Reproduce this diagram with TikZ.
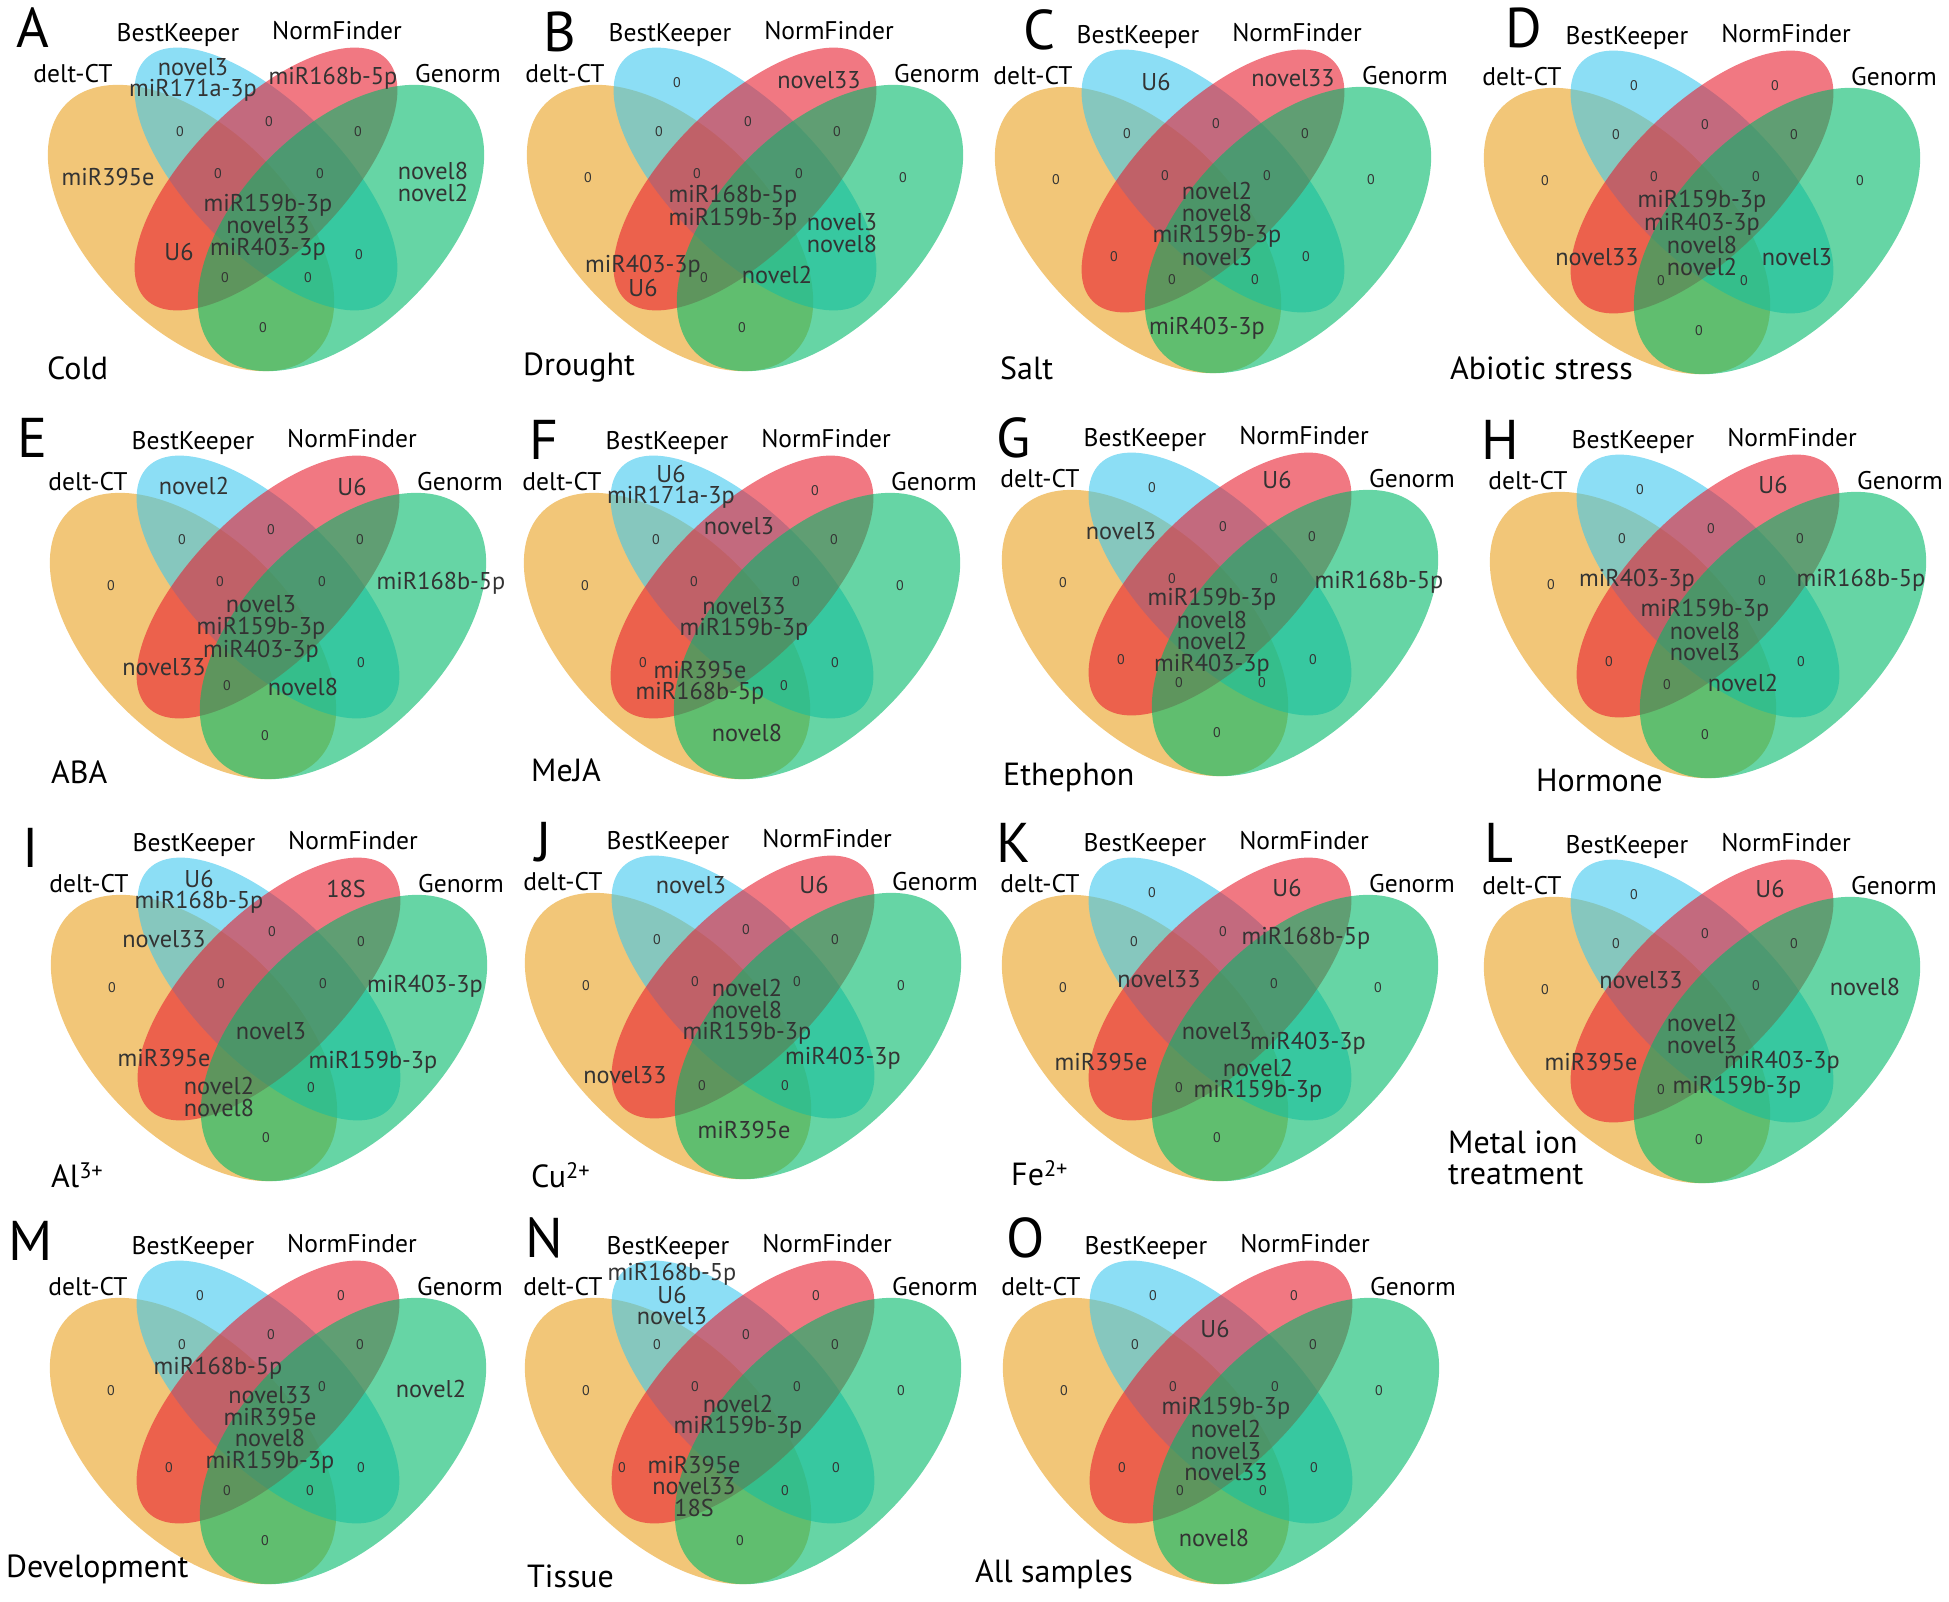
\documentclass[tikz,border=0pt]{standalone}
\usepackage{fontspec}
\setmainfont{PT Sans}
\definecolor{dctcol}{RGB}{233,160,30}
\definecolor{bkcol}{RGB}{63,200,238}
\definecolor{nfcol}{RGB}{232,30,47}
\definecolor{gncol}{RGB}{0,185,105}
\newcommand\labdx{0}
\tikzset{
  gene/.style={font=\fontsize{24.3}{21.5}\selectfont, align=center, inner sep=0pt, text=black!80},
  zero/.style={font=\fontsize{14}{14}\selectfont, inner sep=0pt, text=black!80},
  setlab/.style={font=\fontsize{25.5}{25}\selectfont, inner sep=0pt},
  tag/.style={font=\fontsize{56}{56}\selectfont, inner sep=0pt},
  ttl/.style={font=\fontsize{32}{31}\selectfont, inner sep=0pt, anchor=west, align=left},
  lobe/.style={fill opacity=0.6},
  venn/.pic={
    \fill[lobe,dctcol] (-75,143) circle[x radius=176, y radius=100, rotate=-45];
    \fill[lobe,bkcol] (0,94) circle[x radius=170, y radius=75, rotate=-45];
    \fill[lobe,nfcol] (0,94) circle[x radius=170, y radius=75, rotate=45];
    \fill[lobe,gncol] (75,143) circle[x radius=176, y radius=100, rotate=45];
    \node[setlab] (-dct) at (-180+\labdx,-11) {delt-CT};
    \node[setlab] (-bk) at (-75+\labdx,-50) {BestKeeper};
    \node[setlab] (-nf) at (84+\labdx,-54) {NormFinder};
    \node[setlab] (-gn) at (192,-11) {Genorm};
    \foreach \r/\x/\y in {o/-157/93, b/-68/-2, r/73/-2, g/158/93, ob/-86/47, br/3/37, rg/92/47,
        obr/-48/89, brg/54/89, or/-99/170, bg/93/170, org/-41/193, obg/42/193, og/-3/243}
      \coordinate (-\r) at (\x,\y);
  }
}
\begin{document}
\begin{tikzpicture}[x=1pt,y=-1pt]
\useasboundingbox (0,0) rectangle (1949,1601);

\begin{scope}[shift={(266,85)}]
\renewcommand\labdx{-13}
\pic (A) at (0,0) {venn};
\node[tag] (A-tag) at (-233,-57) {A};
\node[ttl] (A-ttl) at (-219,283) {Cold};
\foreach \r in {ob,br,rg,obr,brg,bg,org,obg,og} \node[zero] (A-z\r) at (A-\r) {0};
\node[gene] (A-go) at (-158,92) {miR395e};
\node[gene] (A-gb) at (-73,-5) {novel3\\miR171a-3p};
\node[gene] (A-gr) at (67,-7) {miR168b-5p};
\node[gene] (A-gg) at (167,97) {novel8\\novel2};
\node[gene] (A-gall) at (2,142) {miR159b-3p\\novel33\\miR403-3p};
\node[gene] (A-gor) at (-87,167) {U6};
\end{scope}

\begin{scope}[shift={(745,85)}]
\pic (B) at (0,0) {venn};
\node[tag] (B-tag) at (-185,-53) {B};
\node[ttl] (B-ttl) at (-222,283) {Drought};
\foreach \r in {o,b,g,ob,br,rg,obr,brg,org,og} \node[zero] (B-z\r) at (B-\r) {0};
\node[gene] (B-gr) at (74,-5) {novel33};
\node[gene] (B-gall) at (-12,123) {miR168b-5p\\miR159b-3p};
\node[gene] (B-gbg) at (97,148) {novel3\\novel8};
\node[gene] (B-gor) at (-102,191) {miR403-3p\\U6};
\node[gene] (B-gobg) at (32,190) {novel2};
\end{scope}

\begin{scope}[shift={(1213,87)}]
\pic (C) at (0,0) {venn};
\node[tag] (C-tag) at (-174,-57) {C};
\node[ttl] (C-ttl) at (-213,281) {Salt};
\foreach \r in {o,g,ob,br,rg,obr,brg,or,bg,org,obg} \node[zero] (C-z\r) at (C-\r) {0};
\node[gene] (C-gb) at (-57,-5) {U6};
\node[gene] (C-gr) at (80,-9) {novel33};
\node[gene] (C-gall) at (4,137) {novel2\\novel8\\miR159b-3p\\novel3};
\node[gene] (C-gog) at (-6,241) {miR403-3p};
\end{scope}

\begin{scope}[shift={(1702,88)}]
\pic (D) at (0,0) {venn};
\node[tag] (D-tag) at (-178,-60) {D};
\node[ttl] (D-ttl) at (-252,280) {Abiotic stress};
\foreach \r in {o,b,r,g,ob,br,rg,obr,brg,org,obg,og} \node[zero] (D-z\r) at (D-\r) {0};
\node[gene] (D-gall) at (0,145) {miR159b-3p\\miR403-3p\\novel8\\novel2};
\node[gene] (D-gor) at (-105,169) {novel33};
\node[gene] (D-gbg) at (95,169) {novel3};
\end{scope}

\begin{scope}[shift={(268,493)}]
\pic (E) at (0,0) {venn};
\node[tag] (E-tag) at (-235,-55) {E};
\node[ttl] (E-ttl) at (-217,279) {ABA};
\foreach \r in {o,ob,br,rg,obr,brg,bg,org,og} \node[zero] (E-z\r) at (E-\r) {0};
\node[gene] (E-gb) at (-74,-7) {novel2};
\node[gene] (E-gr) at (84,-6) {U6};
\node[gene] (E-gg) at (173,90) {miR168b-5p};
\node[gene] (E-gall) at (-7,136) {novel3\\miR159b-3p\\miR403-3p};
\node[gene] (E-gor) at (-104,174) {novel33};
\node[gene] (E-gobg) at (35,194) {novel8};
\end{scope}

\begin{scope}[shift={(742,493)}]
\pic (F) at (0,0) {venn};
\node[tag] (F-tag) at (-198,-53) {F};
\node[ttl] (F-ttl) at (-211,277) {MeJA};
\foreach \r in {o,r,g,ob,rg,obr,brg,or,bg,obg} \node[zero] (F-z\r) at (F-\r) {0};
\node[gene] (F-gb) at (-71,-6) {U6\\miR171a-3p};
\node[gene] (F-gbr) at (-3,33) {novel3};
\node[gene] (F-gall) at (2,126) {novel33\\miR159b-3p};
\node[gene] (F-gorg) at (-42,190) {miR395e\\miR168b-5p};
\node[gene] (F-gog) at (5,240) {novel8};
\end{scope}

\begin{scope}[shift={(1220,490)}]
\pic (G) at (0,0) {venn};
\node[tag] (G-tag) at (-206,-52) {G};
\node[ttl] (G-ttl) at (-217,287) {Ethephon};
\foreach \r in {o,b,br,rg,obr,brg,or,bg,org,obg,og} \node[zero] (G-z\r) at (G-\r) {0};
\node[gene] (G-gob) at (-99,41) {novel3};
\node[gene] (G-gr) at (57,-10) {U6};
\node[gene] (G-gg) at (159,92) {miR168b-5p};
\node[gene] (G-gall) at (-8,142) {miR159b-3p\\novel8\\novel2\\miR403-3p};
\end{scope}

\begin{scope}[shift={(1708,492)}]
\pic (H) at (0,0) {venn};
\node[tag] (H-tag) at (-208,-52) {H};
\node[ttl] (H-ttl) at (-172,288) {Hormone};
\foreach \r in {o,b,ob,br,rg,brg,or,bg,org,og} \node[zero] (H-z\r) at (H-\r) {0};
\node[gene] (H-gr) at (65,-7) {U6};
\node[gene] (H-gobr) at (-71,88) {miR403-3p};
\node[gene] (H-gg) at (153,88) {miR168b-5p};
\node[gene] (H-gall) at (-3,138) {miR159b-3p\\novel8\\novel3};
\node[gene] (H-gobg) at (35,191) {novel2};
\end{scope}

\begin{scope}[shift={(269,895)}]
\pic (I) at (0,0) {venn};
\node[tag] (I-tag) at (-238,-47) {I};
\node[ttl] (I-ttl) at (-218,280) {Al\textsuperscript{3+}};
\foreach \r in {o,br,rg,obr,brg,obg,og} \node[zero] (I-z\r) at (I-\r) {0};
\node[gene] (I-gb) at (-70,-3) {U6\\miR168b-5p};
\node[gene] (I-gr) at (77,-6) {18S};
\node[gene] (I-gob) at (-105,44) {novel33};
\node[gene] (I-gg) at (156,91) {miR403-3p};
\node[gene] (I-gall) at (2,136) {novel3};
\node[gene] (I-gor) at (-105,163) {miR395e};
\node[gene] (I-gbg) at (104,167) {miR159b-3p};
\node[gene] (I-gorg) at (-50,202) {novel2\\novel8};
\end{scope}

\begin{scope}[shift={(743,893)}]
\pic (J) at (0,0) {venn};
\node[tag] (J-tag) at (-199,-51) {J};
\node[ttl] (J-ttl) at (-212,282) {Cu\textsuperscript{2+}};
\foreach \r in {o,g,ob,br,rg,obr,brg,org,obg} \node[zero] (J-z\r) at (J-\r) {0};
\node[gene] (J-gb) at (-52,-8) {novel3};
\node[gene] (J-gr) at (71,-8) {U6};
\node[gene] (J-gall) at (4,119) {novel2\\novel8\\miR159b-3p};
\node[gene] (J-gor) at (-118,182) {novel33};
\node[gene] (J-gbg) at (100,165) {miR403-3p};
\node[gene] (J-gog) at (1,237) {miR395e};
\end{scope}

\begin{scope}[shift={(1220,895)}]
\pic (K) at (0,0) {venn};
\node[tag] (K-tag) at (-206,-52) {K};
\node[ttl] (K-ttl) at (-209,278) {Fe\textsuperscript{2+}};
\foreach \r in {o,b,g,ob,br,brg,org,og} \node[zero] (K-z\r) at (K-\r) {0};
\node[gene] (K-gr) at (67,-7) {U6};
\node[gene] (K-grg) at (86,43) {miR168b-5p};
\node[gene] (K-gobr) at (-61,84) {novel33};
\node[gene] (K-gall) at (-3,136) {novel3};
\node[gene] (K-gbg) at (88,148) {miR403-3p};
\node[gene] (K-gor) at (-119,167) {miR395e};
\node[gene] (K-gobg) at (38,186) {novel2\\miR159b-3p};
\end{scope}

\begin{scope}[shift={(1702,897)}]
\pic (L) at (0,0) {venn};
\node[tag] (L-tag) at (-203,-54) {L};
\node[ttl] (L-ttl) at (-254,261) {Metal ion\\treatment};
\foreach \r in {o,b,ob,br,rg,brg,org,og} \node[zero] (L-z\r) at (L-\r) {0};
\node[gene] (L-gr) at (68,-8) {U6};
\node[gene] (L-gobr) at (-61,83) {novel33};
\node[gene] (L-gg) at (163,90) {novel8};
\node[gene] (L-gall) at (0,137) {novel2\\novel3};
\node[gene] (L-gor) at (-111,165) {miR395e};
\node[gene] (L-gbg) at (80,165) {miR403-3p};
\node[gene] (L-gobg) at (35,190) {miR159b-3p};
\end{scope}

\begin{scope}[shift={(268,1298)}]
\pic (M) at (0,0) {venn};
\node[tag] (M-tag) at (-237,-57) {M};
\node[ttl] (M-ttl) at (-262,271) {Development};
\foreach \r in {o,b,r,ob,br,rg,brg,or,bg,org,obg,og} \node[zero] (M-z\r) at (M-\r) {0};
\node[gene] (M-gobr) at (-50,70) {miR168b-5p};
\node[gene] (M-gg) at (163,91) {novel2};
\node[gene] (M-gall) at (2,132) {novel33\\miR395e\\novel8\\miR159b-3p};
\end{scope}

\begin{scope}[shift={(743,1298)}]
\pic (N) at (0,0) {venn};
\node[tag] (N-tag) at (-199,-60) {N};
\node[ttl] (N-ttl) at (-216,278) {Tissue};
\foreach \r in {o,r,g,ob,br,rg,obr,brg,bg,obg,og} \node[zero] (N-z\r) at (N-\r) {0};
\node[zero] (N-zor) at (-121,170) {0};
\node[gene] (N-gb) at (-71,-4) {miR168b-5p\\U6\\novel3};
\node[gene] (N-gall) at (-5,119) {novel2\\miR159b-3p};
\node[gene] (N-gorg) at (-49,188) {miR395e\\novel33\\18S};
\end{scope}

\begin{scope}[shift={(1221,1298)}]
\pic (O) at (0,0) {venn};
\node[tag] (O-tag) at (-195,-60) {O};
\node[ttl] (O-ttl) at (-246,276) {All samples};
\foreach \r in {o,b,r,g,ob,rg,obr,brg,or,bg,org,obg} \node[zero] (O-z\r) at (O-\r) {0};
\node[gene] (O-gbr) at (-6,31) {U6};
\node[gene] (O-gall) at (5,141) {miR159b-3p\\novel2\\novel3\\novel33};
\node[gene] (O-gog) at (-7,240) {novel8};
\end{scope}
\end{tikzpicture}
\end{document}
